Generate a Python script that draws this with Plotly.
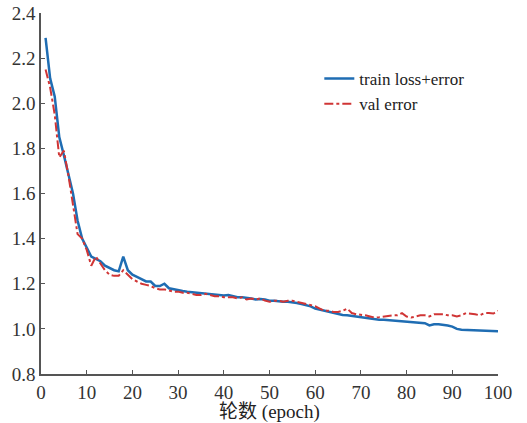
import plotly.graph_objects as go

epochs = list(range(1, 101))

train_loss_error = [
    2.29, 2.11, 2.03, 1.85, 1.77, 1.69, 1.60, 1.48, 1.40, 1.36,
    1.32, 1.31, 1.30, 1.28, 1.27, 1.26, 1.255, 1.32, 1.26, 1.24,
    1.23, 1.22, 1.21, 1.21, 1.19, 1.19, 1.20, 1.18, 1.175, 1.17,
    1.168, 1.165, 1.163, 1.16, 1.16, 1.158, 1.155, 1.152, 1.15, 1.148,
    1.15, 1.145, 1.14, 1.14, 1.138, 1.135, 1.13, 1.132, 1.13, 1.125,
    1.125, 1.122, 1.12, 1.12, 1.118, 1.115, 1.11, 1.105, 1.10, 1.09,
    1.085, 1.08, 1.075, 1.07, 1.065, 1.062, 1.06, 1.057, 1.055, 1.05,
    1.048, 1.045, 1.043, 1.04, 1.04, 1.038, 1.036, 1.035, 1.033, 1.03,
    1.03, 1.028, 1.027, 1.025, 1.015, 1.02, 1.02, 1.018, 1.015, 1.01,
    1.0, 0.996, 0.995, 0.995, 0.995, 0.993, 0.993, 0.992, 0.991, 0.99,
]

val_error = [
    2.15, 2.07, 1.95, 1.76, 1.79, 1.68, 1.55, 1.42, 1.40, 1.35,
    1.28, 1.32, 1.29, 1.26, 1.24, 1.235, 1.235, 1.26, 1.24, 1.22,
    1.21, 1.20, 1.195, 1.19, 1.18, 1.175, 1.175, 1.17, 1.165, 1.165,
    1.16, 1.16, 1.155, 1.15, 1.15, 1.155, 1.15, 1.145, 1.145, 1.14,
    1.14, 1.14, 1.135, 1.14, 1.13, 1.135, 1.13, 1.135, 1.125, 1.12,
    1.125, 1.125, 1.12, 1.125, 1.125, 1.12, 1.115, 1.11, 1.105, 1.10,
    1.09, 1.08, 1.08, 1.075, 1.075, 1.08, 1.09, 1.07, 1.065, 1.063,
    1.06, 1.055, 1.05, 1.052, 1.055, 1.055, 1.06, 1.06, 1.07, 1.055,
    1.05, 1.055, 1.06, 1.06, 1.055, 1.065, 1.065, 1.065, 1.06, 1.06,
    1.055, 1.06, 1.07, 1.068, 1.065, 1.06, 1.07, 1.07, 1.068, 1.08,
]

x_ticks = [0, 10, 20, 30, 40, 50, 60, 70, 80, 90, 100]
y_ticks = [0.8, 1.0, 1.2, 1.4, 1.6, 1.8, 2.0, 2.2, 2.4]
y_tick_labels = ["0.8", "1.0", "1.2", "1.4", "1.6", "1.8", "2.0", "2.2", "2.4"]

FONT = "Liberation Serif"

fig = go.Figure()
fig.add_trace(go.Scatter(
    x=epochs, y=train_loss_error, mode="lines", name="train loss+error",
    line=dict(color="#1f6db3", width=2.5),
))
fig.add_trace(go.Scatter(
    x=epochs, y=val_error, mode="lines", name="val error",
    line=dict(color="#d03535", width=2, dash="dashdot"),
))

axis_common = dict(
    showline=True, linecolor="#555555", linewidth=1.5,
    ticks="inside", ticklen=4, tickcolor="#555555", tickwidth=1.2,
    showgrid=False, zeroline=False, mirror=False, automargin=False,
    tickfont=dict(family=FONT, size=19, color="#333333"),
)

fig.update_layout(
    width=527, height=423,
    margin=dict(l=41, r=29, t=13, b=49),
    paper_bgcolor="white", plot_bgcolor="white",
    font=dict(family=FONT, color="#333333"),
    xaxis=dict(range=[0, 100], tickvals=x_ticks, ticklabelstandoff=0,
               title=dict(text="轮数 (epoch)", font=dict(family="Liberation Serif, Noto Sans CJK SC", size=19, color="#222222"), standoff=2),
               **axis_common),
    yaxis=dict(range=[0.8, 2.4], tickvals=y_ticks, ticktext=y_tick_labels, **axis_common),
    legend=dict(x=0.609, y=0.867, xanchor="left", yanchor="top",
                bgcolor="rgba(0,0,0,0)", font=dict(family=FONT, size=17, color="#222222"),
                tracegroupgap=0, itemwidth=30),
    showlegend=True,
)

fig.write_html("out.html")
